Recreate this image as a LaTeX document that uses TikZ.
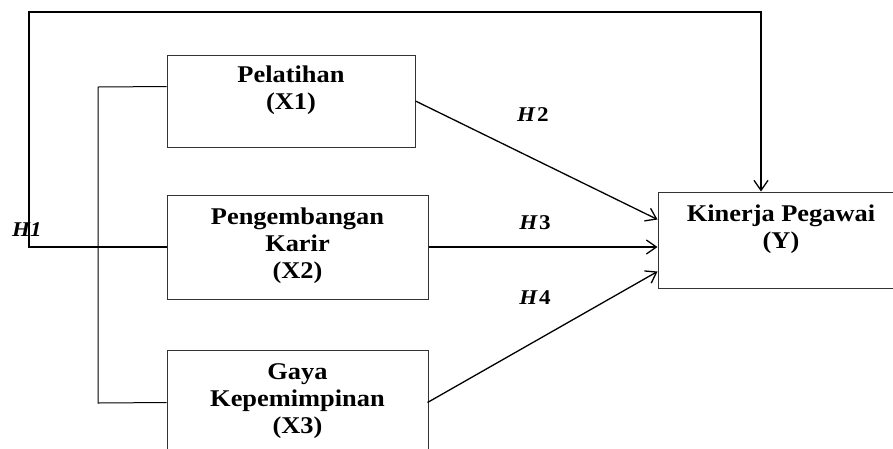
\documentclass[tikz,border=0pt]{standalone}
\usepackage{fontspec}
\setmainfont{Liberation Serif}[FakeStretch=1.1]
\usetikzlibrary{arrows.meta,calc}
\begin{document}
\begin{tikzpicture}[x=1pt,y=-1pt,
  box/.style={draw=black!80,line width=1pt,rectangle,inner sep=0pt},
  lbl/.style={anchor=north,align=center,inner sep=0pt,font=\bfseries\fontsize{24}{27}\selectfont},
  hyp/.style={inner sep=0pt,font=\bfseries\itshape\fontsize{21}{24}\selectfont},
  con/.style={line width=1.3pt,black},
  arr/.style={con,-{Straight Barb[length=10pt,width=14pt,line width=1.3pt]}}]
\useasboundingbox (0,0) rectangle (893,448);
\clip (0,0) rectangle (893,448);
% boxes
\node[box,minimum width=248pt,minimum height=92pt] (X1) at (291,101) {};
\node[box,minimum width=261pt,minimum height=104pt] (X2) at (297.5,247) {};
\node[box,minimum width=261pt,minimum height=120pt] (X3) at (297.5,410) {};
\node[box,minimum width=260pt,minimum height=96pt] (Y) at (788,240) {};
% texts
\node[lbl] (t1) at (291,66) {Pelatihan\\(X1)};
\node[lbl] (t2) at (297.5,208) {Pengembangan\\Karir\\(X2)};
\node[lbl] (t3) at (297.5,363) {Gaya\\Kepemimpinan\\(X3)};
\node[lbl] (ty) at (781,205) {Kinerja Pegawai\\(Y)};
% hypothesis labels
\node[hyp] (h1) at (27,230) {H1};
\node[hyp] (h2) at (533,115) {H\kern2pt\upshape 2};
\node[hyp] (h3) at (535,223) {H\kern2pt\upshape 3};
\node[hyp] (h4) at (535,298) {H\kern2pt\upshape 4};
% corner coordinates
\coordinate (b1) at (98,87);
\coordinate (b2) at (98,403);
\coordinate (c1) at (29,247);
\coordinate (c2) at (29,12);
\coordinate (c3) at (761,12);
% bracket joining X1 and X3
\draw[con,line width=1pt] ($(X1.north west)+(0,32)$) -- (b1) -- (b2) -- ($(X3.north west)+(0,53)$);
% H1 loop
\draw[arr] (X2.west) -- (c1) -- (c2) -- (c3) -- (c3 |- Y.north);
% H2, H3, H4
\draw[arr] (X1.east) -- ($(Y.north west)+(0,28)$);
\draw[arr] (X2.east) -- (X2.east -| Y.west);
\draw[arr] ($(X3.north west)+(261,53)$) -- ($(Y.north west)+(0,80)$);
\end{tikzpicture}
\end{document}
